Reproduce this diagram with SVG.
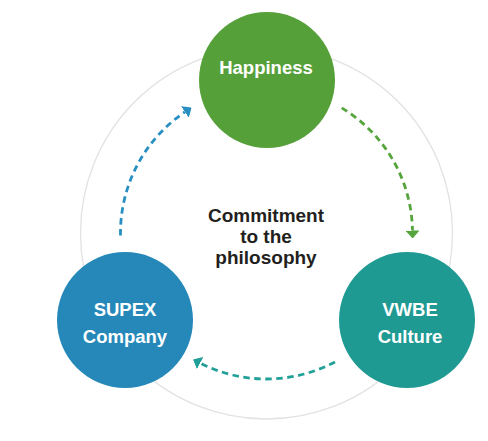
<svg xmlns="http://www.w3.org/2000/svg" width="488" height="441" viewBox="0 0 488 441">
  <style>
    .ring { fill: none; stroke: #e2e2e2; stroke-width: 1.3; }
    .node-label { font-family: "Liberation Sans", Arial, sans-serif; font-weight: bold; font-size: 18.5px; fill: #ffffff; text-anchor: middle; }
    .center-label { font-family: "Liberation Sans", Arial, sans-serif; font-weight: bold; font-size: 19px; fill: #231f20; text-anchor: middle; }
    .flow { fill: none; stroke-width: 2.8; stroke-dasharray: 6.5 4.5; }
  </style>
  <defs>
    <marker id="head-green" viewBox="0 -7 8 14" refX="0" refY="0" markerWidth="8" markerHeight="14" markerUnits="userSpaceOnUse" orient="auto">
      <polygon points="0,-7 8,0 0,7" fill="#55a43c"/>
    </marker>
    <marker id="head-teal" viewBox="0 -7 8 14" refX="0" refY="0" markerWidth="8" markerHeight="14" markerUnits="userSpaceOnUse" orient="auto">
      <polygon points="0,-7 8,0 0,7" fill="#21a097"/>
    </marker>
    <marker id="head-blue" viewBox="0 -7 8 14" refX="0" refY="0" markerWidth="8" markerHeight="14" markerUnits="userSpaceOnUse" orient="auto">
      <polygon points="0,-7 8,0 0,7" fill="#278fc1"/>
    </marker>
  </defs>

  <circle class="ring" cx="266.5" cy="233" r="186"/>

  <g id="connectors">
    <path class="flow" stroke="#55a43c" d="M341.7,107.9 A146,146 0 0 1 412.5,230.5" marker-end="url(#head-green)"/>
    <path class="flow" stroke="#21a097" d="M335.0,361.9 A146,146 0 0 1 200.2,363.1" marker-end="url(#head-teal)"/>
    <path class="flow" stroke="#278fc1" d="M120.5,235.5 A146,146 0 0 1 184.9,112.0" marker-end="url(#head-blue)"/>
  </g>

  <g id="center-text">
    <text class="center-label" x="266" y="221.5">Commitment</text>
    <text class="center-label" x="266" y="243">to the</text>
    <text class="center-label" x="266" y="264">philosophy</text>
  </g>

  <g id="node-happiness">
    <circle cx="267" cy="80" r="68" fill="#56a03a"/>
    <text class="node-label" x="266" y="74">Happiness</text>
  </g>

  <g id="node-supex">
    <circle cx="125" cy="320" r="68" fill="#2588b9"/>
    <text class="node-label" x="125" y="316">SUPEX</text>
    <text class="node-label" x="125" y="343">Company</text>
  </g>

  <g id="node-vwbe">
    <circle cx="407" cy="320" r="68" fill="#1f9a93"/>
    <text class="node-label" x="410" y="316">VWBE</text>
    <text class="node-label" x="410" y="343">Culture</text>
  </g>
</svg>
